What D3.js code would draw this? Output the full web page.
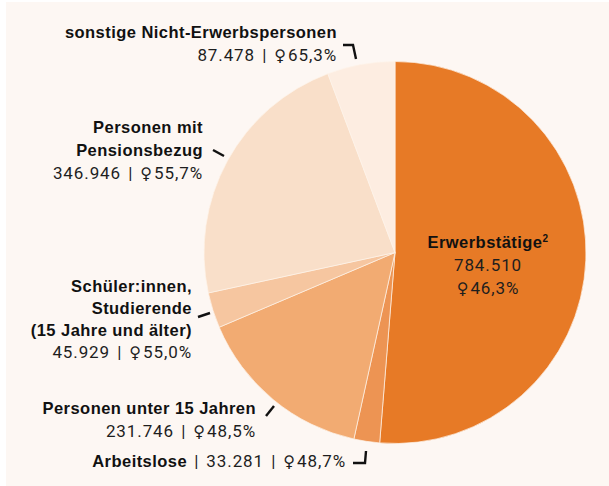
<!DOCTYPE html>
<html>
<head>
<meta charset="utf-8">
<script src="https://cdn.jsdelivr.net/npm/d3@7"></script>
<style>
  html, body { margin: 0; padding: 0; background: #ffffff; }
  svg { display: block; }
  .lbl { font-family: "Liberation Sans", Arial, sans-serif; font-weight: 700; font-size: 16.5px; letter-spacing: 0.45px; fill: #111111; }
  .val { font-family: "Roboto", "Liberation Sans", sans-serif; font-weight: 400; font-size: 17px; letter-spacing: 0.9px; word-spacing: 2px; fill: #1e1e1e; }
  .sym { font-family: "DejaVu Sans", sans-serif; font-size: 16px; letter-spacing: 2px; }
</style>
</head>
<body>
<svg id="chart" width="609" height="486"></svg>
<script>
// Population by labour-market status
const categories = [
  "Erwerbstätige",
  "Arbeitslose",
  "Personen unter 15 Jahren",
  "Schüler:innen, Studierende (15 Jahre und älter)",
  "Personen mit Pensionsbezug",
  "sonstige Nicht-Erwerbspersonen"
];
const persons = [784510, 33281, 231746, 45929, 346946, 87478];
const femaleShare = ["46,3%", "48,7%", "48,5%", "55,0%", "55,7%", "65,3%"];
const valueLabels = ["784.510", "33.281", "231.746", "45.929", "346.946", "87.478"];
const sliceColors = ["#e77a26", "#ed9453", "#f2ab72", "#f6c6a0", "#f9dfc9", "#fdede1"];

const svg = d3.select("#chart");
const W = 609, H = 486;

svg.append("rect").attr("x", 6).attr("y", 2).attr("width", W - 6).attr("height", H - 2).attr("fill", "#fdf7f3");

const cx = 395, cy = 252.5, R = 191;
const g = svg.append("g").attr("transform", `translate(${cx},${cy})`);

const pie = d3.pie().sort(null).value(d => d.v);
const arcs = pie(persons.map((v, i) => ({ v, i })));
const arc = d3.arc().innerRadius(0).outerRadius(R);

g.selectAll("path.slice").data(arcs).join("path")
  .attr("class", "slice")
  .attr("d", arc)
  .attr("fill", d => sliceColors[d.data.i])
  .attr("stroke", "#fdf3ea")
  .attr("stroke-width", 0.7);

// value line: "<number> | ♀<share>" (female sign set in a font that has it)
function valueLine(sel, i, withNumber) {
  if (withNumber) sel.append("tspan").text(valueLabels[i] + " | ");
  sel.append("tspan").attr("class", "sym").text("\u2640");
  sel.append("tspan").text(femaleShare[i]);
}

function block(x, boldLines, yBold, yVal, i) {
  boldLines.forEach((t, k) => {
    svg.append("text").attr("class", "lbl").attr("x", x).attr("y", yBold[k])
      .attr("text-anchor", "end").text(t);
  });
  const v = svg.append("text").attr("class", "val").attr("x", x).attr("y", yVal).attr("text-anchor", "end");
  valueLine(v, i, true);
}

// Erwerbstätige (inside slice)
const eT = svg.append("text").attr("class", "lbl").attr("x", 488).attr("y", 248).attr("text-anchor", "middle");
eT.append("tspan").text(categories[0]);
eT.append("tspan").attr("dy", -6).attr("font-size", "10px").text("2");
svg.append("text").attr("class", "val").attr("x", 488).attr("y", 271).attr("text-anchor", "middle").text(valueLabels[0]);
valueLine(svg.append("text").attr("class", "val").attr("x", 488).attr("y", 294).attr("text-anchor", "middle"), 0, false);

// sonstige Nicht-Erwerbspersonen
block(337, [categories[5]], [38], 61, 5);
// Personen mit Pensionsbezug
block(203, ["Personen mit", "Pensionsbezug"], [133, 156], 179, 4);
// Schüler:innen
block(192, ["Schüler:innen,", "Studierende", "(15 Jahre und älter)"], [292, 314, 336], 358, 3);
// Personen unter 15 Jahren
block(256, [categories[2]], [414], 437, 2);
// Arbeitslose (single line)
const aT = svg.append("text").attr("x", 346).attr("y", 467).attr("text-anchor", "end");
aT.append("tspan").attr("class", "lbl").text(categories[1]);
const aV = aT.append("tspan").attr("class", "val");
aV.append("tspan").text(" | " + valueLabels[1] + " | ");
aV.append("tspan").attr("class", "sym").text("\u2640");
aV.append("tspan").text(femaleShare[1]);

// connector lines
const line = d3.line();
const connectors = [
  [[343, 45], [353, 45], [356, 59]],
  [[213, 150], [224, 156]],
  [[198, 317], [210, 313]],
  [[266, 416], [274, 406]],
  [[353, 463], [365, 463], [366, 451]]
];
svg.selectAll("path.conn").data(connectors).join("path")
  .attr("class", "conn")
  .attr("d", d => line(d))
  .attr("fill", "none")
  .attr("stroke", "#111")
  .attr("stroke-width", 2.4);
</script>
</body>
</html>
